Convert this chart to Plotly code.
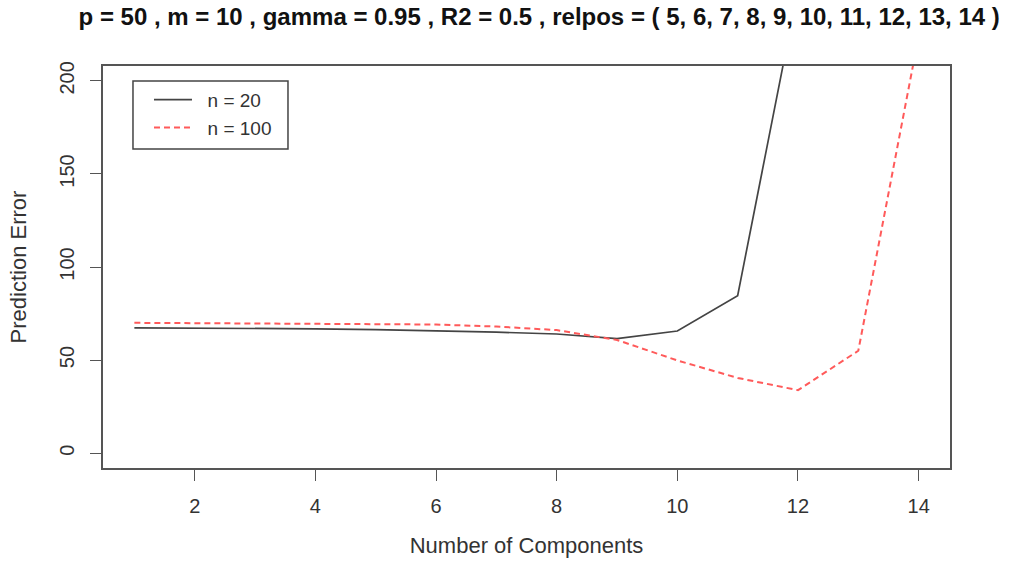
import plotly.graph_objects as go

# Prediction error by number of components, for two sample sizes
components_n20 = [1, 2, 3, 4, 5, 6, 7, 8, 9, 10, 11, 12]
error_n20 = [67.3, 67.2, 67.0, 66.8, 66.3, 65.8, 65.0, 64.0, 61.5, 65.6, 84.6, 249.0]

components_n100 = [1, 2, 3, 4, 5, 6, 7, 8, 9, 10, 11, 12, 13, 14]
error_n100 = [70.0, 69.8, 69.5, 69.4, 69.3, 69.1, 68.0, 66.1, 60.8, 49.8, 40.4, 33.8, 55.0, 224.0]

series_names = ["n = 20", "n = 100"]

x_ticks = [2, 4, 6, 8, 10, 12, 14]
y_ticks = [0, 50, 100, 150, 200]

title_text = ("p = 50 , m = 10 , gamma = 0.95 , R2 = 0.5 , "
              "relpos = ( 5, 6, 7, 8, 9, 10, 11, 12, 13, 14 )")

FONT = "Liberation Sans, Arial, sans-serif"
AXIS_COLOR = "#555555"
PAD = "\u00a0\u00a0"  # gap between legend key and label

fig = go.Figure()
fig.add_trace(go.Scatter(
    x=components_n20, y=error_n20, mode="lines", name=PAD + series_names[0],
    line=dict(color="#444444", width=1.7),
))
fig.add_trace(go.Scatter(
    x=components_n100, y=error_n100, mode="lines", name=PAD + series_names[1],
    line=dict(color="#ff5a5a", width=2, dash="6px,4px"),
))

axis_common = dict(
    showline=True, mirror=True, linecolor=AXIS_COLOR, linewidth=1.6,
    ticks="outside", ticklen=11, tickcolor=AXIS_COLOR, tickwidth=1.4,
    showgrid=False, zeroline=False, automargin=False,
    tickfont=dict(family=FONT, size=20, color="#333333"),
)

# frame around the legend block (top-left of the plot area)
fig.add_shape(
    type="rect", xref="paper", yref="paper",
    x0=0.0354, x1=0.2184, y0=0.7935, y1=0.9627,
    line=dict(color="#444444", width=1.5), fillcolor="white", layer="above",
)

fig.update_layout(
    width=1009, height=561,
    margin=dict(l=103, r=59, t=66, b=93),
    paper_bgcolor="white", plot_bgcolor="white",
    font=dict(family=FONT, color="#222222"),
    title=dict(
        text="<b>" + title_text + "</b>",
        font=dict(family=FONT, size=24, color="#111111"),
        x=0.515, xanchor="center", xref="paper", y=0.97, yanchor="middle",
    ),
    xaxis=dict(
        range=[0.48, 14.52], tickvals=x_ticks, ticklabelstandoff=8,
        title=dict(text="Number of Components",
                   font=dict(family=FONT, size=22, color="#333333"),
                   standoff=22),
        **axis_common,
    ),
    yaxis=dict(
        range=[-8, 208], tickvals=y_ticks, tickangle=-90, ticklabelstandoff=8,
        title=dict(text="Prediction Error",
                   font=dict(family=FONT, size=22, color="#333333"),
                   standoff=24),
        **axis_common,
    ),
    legend=dict(
        x=0.0543, y=0.963, xanchor="left", yanchor="top",
        bgcolor="rgba(0,0,0,0)", borderwidth=0,
        font=dict(family=FONT, size=19, color="#333333"),
        itemwidth=38, tracegroupgap=0,
    ),
    showlegend=True,
)

fig.write_html("out.html")
